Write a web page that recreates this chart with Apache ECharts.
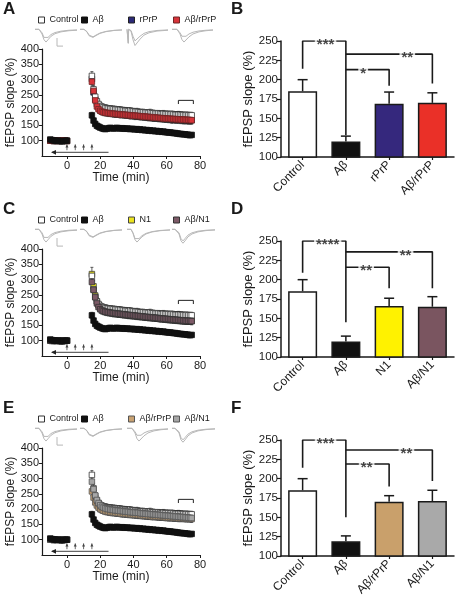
<!DOCTYPE html>
<html><head><meta charset="utf-8">
<script src="https://cdn.jsdelivr.net/npm/echarts@6/dist/echarts.min.js"></script>
<style>html,body{margin:0;padding:0;background:#fff}#c{width:460px;height:600px}</style>
</head><body><div id="c"></div>
<script>
// ---------------- DATA ----------------
const timeBase = [-10,-9,-8,-7,-6,-5,-4,-3,-2,-1,0];
const timePost = [15,16,17,18,19,20,21,22,23,24,25,26,27,28,29,30,31,32,33,34,35,36,37,38,39,40,41,42,43,44,45,46,47,48,49,50,51,52,53,54,55,56,57,58,59,60,61,62,63,64,65,66,67,68,69,70,71,72,73,74,75];
const tcXTicks = [0,20,40,60,80];
const tcYTicks = [100,150,200,250,300,350,400];
const tetanusTimes = [0,5,10,15];
const drugPeriod = [-9,25];
const analysisWindow = [67,76];

// Control
const ctrlBase = [101,100,99,100,101,100,99,100,100,101,100];
const ctrlBaseErr = [3,3,3,3,3,3,3,3,3,3,3];
const ctrlPost = [312,268,244,229,220,214,211,209,207,206,205,204,204,203,202,202,201,201,200,199,198,198,197,198,196,196,195,195,194,193,193,193,192,192,191,192,190,190,189,189,189,188,187,188,187,187,187,186,187,186,185,185,185,185,184,184,183,184,183,183,183];
const ctrlPostErr = [14,13,12,11,11,11,10,10,10,11,10,10,10,10,11,10,10,10,10,10,11,10,10,10,10,10,10,11,10,10,10,10,10,10,10,11,10,10,10,10,10,10,10,11,10,10,10,10,10,10,10,10,11,10,10,10,10,10,10,10,10];
// Abeta
const abBase = [104,102,101,100,99,100,99,98,99,100,100];
const abBaseErr = [4,3,3,3,3,3,3,3,3,3,3];
const abPost = [183,166,155,149,146,143,141,139,138,139,141,142,141,140,141,142,141,140,141,140,139,140,139,138,139,138,137,138,136,137,135,136,134,135,133,134,132,133,131,132,130,131,129,130,128,128,127,127,126,125,125,124,123,122,122,121,121,120,119,118,119];
const abPostErr = [10,8,7,7,6,6,6,6,6,6,6,6,6,6,6,6,6,6,6,6,6,6,6,6,6,6,6,6,6,6,6,5,6,6,6,6,6,6,6,6,6,6,6,5,6,6,6,6,6,6,6,6,6,6,6,5,6,6,6,6,6];
// rPrP
const rprpBase = [100,101,100,99,100,100,101,99,100,100,99];
const rprpBaseErr = [3,3,3,3,3,3,3,3,3,3,3];
const rprpPost = [302,258,236,220,211,205,201,199,197,196,195,194,193,192,192,191,190,189,189,188,187,187,186,185,185,184,183,183,182,181,181,180,180,179,178,178,177,177,176,176,175,175,174,174,173,173,172,172,171,171,170,170,170,169,169,168,168,168,167,167,167];
const rprpPostErr = [16,15,14,14,13,13,13,13,13,13,13,13,13,13,13,13,13,14,13,13,13,13,13,13,13,13,14,13,13,13,13,13,13,13,13,13,13,14,13,13,13,13,13,13,13,13,13,13,14,13,13,13,13,13,13,13,13,13,13,13,13];
// Abeta/rPrP (panel A)
const abRprpBase = [100,100,99,101,100,99,100,100,101,100,99];
const abRprpBaseErr = [3,3,3,3,3,3,3,3,3,3,3];
const abRprpPost = [293,263,232,212,203,198,195,193,192,191,190,190,189,188,188,187,187,186,186,185,185,184,184,183,183,182,182,181,181,180,180,179,179,178,178,177,177,176,176,175,175,174,174,173,173,172,172,172,171,171,171,170,170,170,169,169,169,168,168,168,167];
const abRprpPostErr = [14,13,12,12,12,11,11,11,11,11,11,11,11,11,12,11,11,11,11,11,11,11,11,12,11,11,11,11,11,11,11,11,11,12,11,11,11,11,11,11,11,11,11,11,12,11,11,11,11,11,11,11,11,11,11,12,11,11,11,11,11];
// N1
const n1Base = [101,100,100,99,100,101,100,99,100,100,100];
const n1BaseErr = [3,3,3,3,3,3,3,3,3,3,3];
const n1Post = [318,278,248,228,216,208,203,200,198,196,195,194,193,192,191,190,190,189,188,188,187,186,186,185,184,184,183,183,182,181,181,180,180,179,178,178,177,177,176,175,175,174,174,173,173,172,171,171,170,170,169,169,168,168,167,167,166,166,165,165,165];
const n1PostErr = [22,18,15,13,12,12,12,12,12,12,12,12,12,12,12,12,12,12,12,12,12,12,12,12,12,12,12,12,12,12,12,12,12,12,12,12,12,12,12,12,12,12,12,12,12,12,12,12,12,12,12,12,12,12,12,12,12,12,12,12,12];
// Abeta/N1 (panel C)
const abN1Base = [100,99,100,100,101,100,99,100,100,99,100];
const abN1BaseErr = [3,3,3,3,3,3,3,3,3,3,3];
const abN1Post = [292,266,242,222,210,203,199,197,195,194,193,192,191,190,190,189,188,188,187,186,186,185,184,184,183,183,182,181,181,180,180,179,178,178,177,177,176,176,175,175,174,173,173,172,172,171,171,170,170,169,169,168,168,167,167,166,166,165,165,165,164];
const abN1PostErr = [16,14,13,12,12,12,12,12,12,12,12,12,12,12,12,12,12,12,12,12,12,12,12,12,12,12,12,12,12,12,12,12,12,12,12,12,12,12,12,12,12,12,12,12,12,12,12,12,12,12,12,12,12,12,12,12,12,12,12,12,12];
// Panel E groups
const eAbRprpBase = [100,100,99,100,100,101,100,99,100,100,100];
const eAbRprpBaseErr = [3,3,3,3,3,3,3,3,3,3,3];
const eAbRprpPost = [258,238,222,212,205,200,197,195,193,192,191,190,189,189,188,187,187,186,185,185,184,184,183,183,182,182,181,181,180,180,179,179,178,178,177,177,176,176,176,175,175,174,174,174,173,173,172,172,172,171,171,171,170,170,170,170,169,169,169,169,168];
const eAbRprpPostErr = [14,12,12,11,11,11,11,11,11,11,11,11,11,11,11,11,11,11,11,11,11,11,11,11,11,11,11,11,11,11,11,11,11,11,11,11,11,11,11,11,11,11,11,11,11,11,11,11,11,11,11,11,11,11,11,11,11,11,11,11,11];
const eAbN1Base = [101,100,100,99,100,100,101,100,99,100,100];
const eAbN1BaseErr = [3,3,3,3,3,3,3,3,3,3,3];
const eAbN1Post = [290,265,245,230,220,213,208,205,203,201,200,199,198,197,196,196,195,194,194,193,192,192,191,190,190,189,189,188,188,187,186,186,185,185,184,184,183,183,182,182,181,181,180,180,179,179,178,178,177,177,176,176,175,175,174,174,173,173,172,172,171];
const eAbN1PostErr = [26,20,16,14,13,13,13,13,13,13,13,13,13,13,13,13,13,13,13,13,13,13,13,13,13,13,13,13,13,13,13,13,13,13,13,13,13,13,13,13,13,13,13,13,13,13,13,13,13,13,13,13,13,13,13,13,13,13,13,13,13];

// representative fEPSP traces [time, amplitude]
const trCtrlPre  = [[0,0],[4,0],[7,-3],[9,-7],[11,-8.5],[13,-7],[16,-4.5],[20,-2.8],[26,-1.6],[34,-0.8],[42,-0.5]];
const trCtrlPost = [[0,0],[4,0],[7,-4],[9,-9],[11,-11],[13,-9],[16,-6],[20,-3.8],[26,-2.2],[34,-1.2],[42,-0.8]];
const trAbPre    = [[0,0],[4,0],[7,-2],[9,-5],[11,-6.5],[13,-6.5],[16,-5],[20,-3.2],[26,-1.8],[34,-0.9],[42,-0.5]];
const trAbPost   = [[0,0],[4,0],[7,-2.3],[9,-5.5],[11,-7.2],[13,-7],[16,-5.4],[20,-3.5],[26,-2],[34,-1],[42,-0.6]];
const trRprpPre  = [[0,0],[1,0],[1.3,-12],[1.6,0],[4,-1],[6,-6],[8,-10],[10,-9],[13,-6],[17,-3.5],[22,-2],[30,-1],[41,-0.5]];
const trRprpPost = [[0,0],[1,0],[1.3,-12],[1.6,0],[4,-1.5],[6,-9],[8,-14],[10,-12.5],[13,-8.5],[17,-5],[22,-3],[30,-1.5],[41,-0.8]];
const trAbRprpPre  = [[0,0],[5,0],[8,-3],[10,-6],[12,-7],[14,-6],[17,-4],[21,-2.5],[27,-1.4],[34,-0.8],[41,-0.5]];
const trAbRprpPost = [[0,0],[5,0],[8,-4],[10,-9],[12,-11],[14,-9.5],[17,-6.5],[21,-4],[27,-2.2],[34,-1.2],[41,-0.7]];
const trN1Pre  = [[0,0],[4,0],[6,-3],[8,-8],[10,-9.5],[12,-8],[15,-5.5],[19,-3.5],[25,-2],[33,-1],[43,-0.5]];
const trN1Post = [[0,0],[4,0],[6,-3.5],[8,-9],[10,-11],[12,-9.5],[15,-6.5],[19,-4],[25,-2.3],[33,-1.2],[43,-0.6]];
const trAbN1Pre  = [[0,0],[3,0],[4,-1.5],[5,0],[7,-3],[9,-8],[11,-10],[13,-8],[16,-5],[20,-3],[26,-1.6],[34,-0.8],[43,-0.4]];
const trAbN1Post = [[0,0],[3,0],[4,-1.5],[5,0],[7,-4],[9,-10],[11,-12],[13,-10],[16,-6.5],[20,-4],[26,-2.2],[34,-1.1],[43,-0.6]];
const scaleBar = [[22,-7.5],[22,-14.5],[28,-14.5]];

// bar charts (mean, SEM over 67-75 min)
const catsB = ['Control','Aβ','rPrP','Aβ/rPrP'];
const meanB = [185,120,169,170];
const semB  = [15,7,15,13];
const catsD = ['Control','Aβ','N1','Aβ/N1'];
const meanD = [185,120,166,165];
const semD  = [15,7,10,13];
const catsF = ['Control','Aβ','Aβ/rPrP','Aβ/N1'];
const meanF = [185,119,170,171];
const semF  = [15,7,8,14];
// significance brackets [[catIndex, value], ...] and labels [x, value, text]
const bracketsB = [[[0,214],[0,250],[1,250],[1,128]], [[1,213],[2,213],[2,192]], [[1,233],[3,233],[3,195]]];
const starsB = [[0.53,250,'***'],[1.4,213,'*'],[2.42,233,'**']];
const bracketsD = [[[0,209],[0,250],[1,250],[1,145]], [[1,216],[2,216],[2,189]], [[1,236],[3,236],[3,189]]];
const starsD = [[0.58,250,'****'],[1.47,216,'**'],[2.38,236,'**']];
const bracketsF = [[[0,214],[0,250],[1,250],[1,150]], [[1,219],[2,219],[2,190]], [[1,237],[3,237],[3,197]]];
const starsF = [[0.53,250,'***'],[1.48,219,'**'],[2.4,237,'**']];

// ---------------- BUILD ----------------
const FONT = '"Liberation Sans", Arial, sans-serif';
const INK = '#1a1a1a';
const grid=[], xAxis=[], yAxis=[], series=[], legend=[], title=[];
const addGrid=g=>{grid.push(Object.assign({outerBoundsMode:'none'},g));return grid.length-1;};
const addX=a=>{xAxis.push(a);return xAxis.length-1;};
const addY=a=>{yAxis.push(a);return yAxis.length-1;};

const panels = [
  { off:0, letters:['A','B'],
    groups:[
      {name:'Control#A', base:ctrlBase, baseErr:ctrlBaseErr, post:ctrlPost, postErr:ctrlPostErr, fill:'#ffffff', border:'#333', tr:[trCtrlPre,trCtrlPost]},
      {name:'Aβ#A', base:abBase, baseErr:abBaseErr, post:abPost, postErr:abPostErr, fill:'#111111', border:'#111', tr:[trAbPre,trAbPost]},
      {name:'rPrP#A', base:rprpBase, baseErr:rprpBaseErr, post:rprpPost, postErr:rprpPostErr, fill:'#2c2a78', border:'#222', tr:[trRprpPre,trRprpPost]},
      {name:'Aβ/rPrP#A', base:abRprpBase, baseErr:abRprpBaseErr, post:abRprpPost, postErr:abRprpPostErr, fill:'#d8343a', border:'#6e2626', tr:[trAbRprpPre,trAbRprpPost]}],
    drawOrder:[2,0,3,1], legendX:[38,81,128,173],
    bar:{cats:catsB, mean:meanB, sem:semB, colors:['#ffffff','#111111','#35287d','#ea3028'], br:bracketsB, stars:starsB}},
  { off:200, letters:['C','D'],
    groups:[
      {name:'Control#C', base:ctrlBase, baseErr:ctrlBaseErr, post:ctrlPost, postErr:ctrlPostErr, fill:'#ffffff', border:'#333', tr:[trCtrlPre,trCtrlPost]},
      {name:'Aβ#C', base:abBase, baseErr:abBaseErr, post:abPost, postErr:abPostErr, fill:'#111111', border:'#111', tr:[trAbPre,trAbPost]},
      {name:'N1#C', base:n1Base, baseErr:n1BaseErr, post:n1Post, postErr:n1PostErr, fill:'#ece41e', border:'#444', tr:[trN1Pre,trN1Post]},
      {name:'Aβ/N1#C', base:abN1Base, baseErr:abN1BaseErr, post:abN1Post, postErr:abN1PostErr, fill:'#7d5a67', border:'#333', tr:[trAbN1Pre,trAbN1Post]}],
    drawOrder:[2,0,3,1], legendX:[38,81,128,173],
    bar:{cats:catsD, mean:meanD, sem:semD, colors:['#ffffff','#111111','#fff200','#7a5560'], br:bracketsD, stars:starsD}},
  { off:399, letters:['E','F'],
    groups:[
      {name:'Control#E', base:ctrlBase, baseErr:ctrlBaseErr, post:ctrlPost, postErr:ctrlPostErr, fill:'#ffffff', border:'#333', tr:[trCtrlPre,trCtrlPost]},
      {name:'Aβ#E', base:abBase, baseErr:abBaseErr, post:abPost, postErr:abPostErr, fill:'#111111', border:'#111', tr:[trAbPre,trAbPost]},
      {name:'Aβ/rPrP#E', base:eAbRprpBase, baseErr:eAbRprpBaseErr, post:eAbRprpPost, postErr:eAbRprpPostErr, fill:'#c9a272', border:'#555', tr:[trAbRprpPre,trAbRprpPost]},
      {name:'Aβ/N1#E', base:eAbN1Base, baseErr:eAbN1BaseErr, post:eAbN1Post, postErr:eAbN1PostErr, fill:'#a6a6a6', border:'#555', tr:[trAbN1Pre,trAbN1Post]}],
    drawOrder:[2,0,3,1], legendX:[38,81,128,173],
    bar:{cats:catsF, mean:meanF, sem:semF, colors:['#ffffff','#111111','#c9a06b','#a9a9a9'], br:bracketsF, stars:starsF}}
];
const traceOffsets = [0,45,92,137];

const axisLineStyle = {color:INK, width:1.2};

panels.forEach(p=>{
  const o = p.off;
  title.push({text:p.letters[0], left:3, top:1+o, padding:0, textStyle:{fontSize:17,fontWeight:'bold',color:INK,fontFamily:FONT}});
  title.push({text:p.letters[1], left:231, top:1+o, padding:0, textStyle:{fontSize:17,fontWeight:'bold',color:INK,fontFamily:FONT}});

  p.groups.forEach((g,i)=>{
    legend.push({data:[{name:g.name, itemStyle:{color:g.fill, borderColor:g.border, borderWidth:1}}],
      left:p.legendX[i], top:15.5+o, padding:0, icon:'rect', itemWidth:6, itemHeight:6, selectedMode:false,
      formatter:n=>n.split('#')[0], textStyle:{fontSize:9, color:INK, fontFamily:FONT}});
  });

  // traces
  const tg = addGrid({left:35, top:27+o, width:180, height:22});
  const tx = addX({type:'value', gridIndex:tg, min:0, max:180, show:false});
  const ty = addY({type:'value', gridIndex:tg, min:-17, max:2, show:false});
  p.groups.forEach((g,i)=>{
    g.tr.forEach(tr=>{
      series.push({type:'line', xAxisIndex:tx, yAxisIndex:ty, symbol:'none', silent:true,
        lineStyle:{color:'#b8b8b8', width:1}, data: tr.map(d=>[d[0]+traceOffsets[i], d[1]])});
    });
  });
  series.push({type:'line', xAxisIndex:tx, yAxisIndex:ty, symbol:'none', silent:true,
    lineStyle:{color:'#b8b8b8', width:1}, data: scaleBar});

  // time course
  const g1 = addGrid({left:42, top:49+o, width:158, height:107});
  const x1 = addX({type:'value', gridIndex:g1, min:-15, max:80,
    axisLine:{show:true, onZero:false, lineStyle:axisLineStyle},
    axisTick:{show:true, length:3, customValues:tcXTicks, lineStyle:{color:INK}},
    axisLabel:{customValues:tcXTicks, fontSize:11, color:INK, margin:4, fontFamily:FONT},
    splitLine:{show:false},
    name:'Time (min)', nameLocation:'middle', nameGap:16, nameTextStyle:{fontSize:12, color:INK, fontFamily:FONT}});
  const y1 = addY({type:'value', gridIndex:g1, min:50, max:400, interval:50,
    axisLine:{show:true, onZero:false, lineStyle:axisLineStyle},
    axisTick:{show:true, length:3, customValues:tcYTicks, lineStyle:{color:INK}},
    axisLabel:{customValues:tcYTicks, fontSize:11, color:INK, margin:3, fontFamily:FONT},
    splitLine:{show:false},
    name:'fEPSP slope (%)', nameLocation:'middle', nameGap:24, nameTextStyle:{fontSize:12, color:INK, fontFamily:FONT}});

  p.drawOrder.forEach(gi=>{
    const g = p.groups[gi];
    const pts = timeBase.map((t,i)=>[t,g.base[i],g.baseErr[i]]).concat(timePost.map((t,i)=>[t,g.post[i],g.postErr[i]||0]));
    series.push({type:'custom', xAxisIndex:x1, yAxisIndex:y1, silent:true, data:pts,
      renderItem:(params, api)=>{
        const x=api.value(0), y=api.value(1), e=api.value(2);
        const a=api.coord([x,y+e]), b=api.coord([x,y-e]);
        const st={stroke:'#2e2e2e', lineWidth:0.75};
        return {type:'group', children:[
          {type:'line', shape:{x1:a[0],y1:a[1],x2:b[0],y2:b[1]}, style:st},
          {type:'line', shape:{x1:a[0]-1.5,y1:a[1],x2:a[0]+1.5,y2:a[1]}, style:st},
          {type:'line', shape:{x1:b[0]-1.5,y1:b[1],x2:b[0]+1.5,y2:b[1]}, style:st}]};
      }});
    series.push({type:'scatter', name:g.name, xAxisIndex:x1, yAxisIndex:y1, silent:true,
      symbol:'rect', symbolSize:5.5, itemStyle:{color:g.fill, borderColor:g.border, borderWidth:0.8, opacity:1},
      data: pts.map(d=>[d[0],d[1]])});
  });

  // tetanus arrows
  series.push({type:'custom', xAxisIndex:x1, yAxisIndex:y1, silent:true, data:tetanusTimes.map(t=>[t]),
    renderItem:(params, api)=>{
      const t=api.value(0); const a=api.coord([t,69]), b=api.coord([t,88]);
      return {type:'group', children:[
        {type:'line', shape:{x1:a[0],y1:a[1],x2:b[0],y2:b[1]}, style:{stroke:'#444', lineWidth:0.8}},
        {type:'polygon', shape:{points:[[b[0]-1.5,b[1]+3],[b[0],b[1]],[b[0]+1.5,b[1]+3]]}, style:{fill:'#444'}}]};
    }});
  // drug application arrow
  series.push({type:'custom', xAxisIndex:x1, yAxisIndex:y1, silent:true, data:[drugPeriod],
    renderItem:(params, api)=>{
      const a=api.coord([api.value(0),62]), b=api.coord([api.value(1),62]);
      return {type:'group', children:[
        {type:'line', shape:{x1:a[0],y1:a[1],x2:b[0],y2:b[1]}, style:{stroke:'#666', lineWidth:1.3}},
        {type:'polygon', shape:{points:[[a[0]-1,a[1]],[a[0]+4,a[1]-2.3],[a[0]+4,a[1]+2.3]]}, style:{fill:'#222'}}]};
    }});
  // analysis window bracket
  series.push({type:'custom', xAxisIndex:x1, yAxisIndex:y1, silent:true, data:[analysisWindow],
    renderItem:(params, api)=>{
      const a=api.coord([api.value(0),232]), b=api.coord([api.value(1),232]);
      const a2=api.coord([api.value(0),220]), b2=api.coord([api.value(1),220]);
      return {type:'polyline', shape:{points:[a2,a,b,b2]}, style:{stroke:'#222', lineWidth:1, fill:null}};
    }});

  // bar chart
  const bb = p.bar;
  const g2 = addGrid({left:281, top:41+o, width:173, height:116});
  const x2 = addX({type:'category', gridIndex:g2, data:bb.cats,
    axisLine:{show:true, onZero:false, lineStyle:{color:INK, width:1.5}},
    axisTick:{show:true, alignWithLabel:true, length:3, lineStyle:{color:INK, width:1.2}},
    axisLabel:{interval:0, rotate:45, fontSize:12, color:INK, margin:6, fontFamily:FONT}});
  const x2b = addX({type:'value', gridIndex:g2, min:-0.5, max:3.5, show:false});
  const y2 = addY({type:'value', gridIndex:g2, min:100, max:250, interval:25,
    axisLine:{show:true, onZero:false, lineStyle:{color:INK, width:1.5}},
    axisTick:{show:true, length:4, lineStyle:{color:INK, width:1.2}},
    axisLabel:{fontSize:11.5, color:INK, margin:3, fontFamily:FONT},
    splitLine:{show:false},
    name:'fEPSP slope (%)', nameLocation:'middle', nameGap:26, nameTextStyle:{fontSize:13, color:INK, fontFamily:FONT}});
  series.push({type:'custom', xAxisIndex:x2, yAxisIndex:y2, silent:true, z:1,
    data: bb.mean.map((m,i)=>[i,m,bb.sem[i]]),
    renderItem:(params, api)=>{
      const a=api.coord([api.value(0),api.value(1)]), b=api.coord([api.value(0),api.value(1)+api.value(2)]);
      const st={stroke:INK, lineWidth:1.5};
      return {type:'group', children:[
        {type:'line', shape:{x1:a[0],y1:a[1],x2:b[0],y2:b[1]}, style:st},
        {type:'line', shape:{x1:b[0]-5,y1:b[1],x2:b[0]+5,y2:b[1]}, style:st}]};
    }});
  series.push({type:'bar', xAxisIndex:x2, yAxisIndex:y2, silent:true, z:2, barWidth:29,
    itemStyle:{borderColor:INK, borderWidth:1.5},
    data: bb.mean.map((m,i)=>({value:m, itemStyle:{color:bb.colors[i]}}))});
  bb.br.forEach(br=>{
    series.push({type:'line', xAxisIndex:x2b, yAxisIndex:y2, silent:true, z:3, symbol:'none',
      lineStyle:{color:INK, width:1.6}, data: br});
  });
  series.push({type:'scatter', xAxisIndex:x2b, yAxisIndex:y2, silent:true, z:4, symbolSize:1,
    itemStyle:{color:'rgba(0,0,0,0)'},
    data: bb.stars.map(s=>({value:[s[0],s[1]], label:{formatter:s[2]}})),
    label:{show:true, position:'inside', fontSize:15, fontWeight:'bold', color:INK, fontFamily:FONT,
      backgroundColor:'#ffffff', padding:[0,2,0,2], offset:[0,4]}});
});

const chart = echarts.init(document.getElementById('c'), null, {renderer:'canvas'});
chart.setOption({animation:false, backgroundColor:'#ffffff', textStyle:{fontFamily:FONT},
  title, legend, grid, xAxis, yAxis, series});
</script></body></html>
